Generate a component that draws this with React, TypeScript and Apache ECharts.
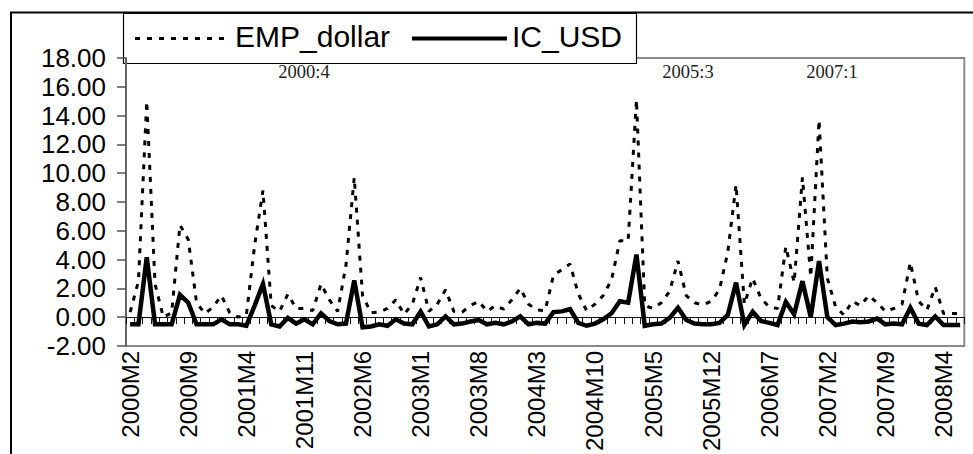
import React, { useEffect, useRef } from "react";
import * as echarts from "echarts";

// Monthly categories 2000M2 .. 2008M6
const firstYear = 2000;
const firstMonth = 2;
const monthCount = 101;
const categories: string[] = [];
for (let k = 0; k < monthCount; k++) {
  const m = firstMonth - 1 + k;
  categories.push(`${firstYear + Math.floor(m / 12)}M${(m % 12) + 1}`);
}

const empDollar = [
  0.35, 2.5, 15.0, 2.3, 0.0, 0.3, 6.4, 5.4, 1.0, 0.25, 0.7, 1.5, 0.3, 0.0, 0.15, 5.0, 8.8,
  0.8, 0.4, 1.6, 0.6, 0.6, 0.45, 2.3, 1.2, 0.4, 3.6, 9.7, 1.5, 0.3, 0.35, 0.6, 1.2,
  0.2, 0.9, 2.75, 0.4, 0.9, 1.9, 0.4, 0.35, 0.8, 1.1, 0.4, 0.8, 0.55, 1.2, 2.0, 0.9, 0.5,
  0.45, 2.9, 3.3, 3.7, 1.6, 0.45, 0.9, 1.5, 2.6, 5.3, 5.3, 15.1, 0.8, 0.6, 1.0, 1.8, 3.9,
  1.5, 1.0, 0.85, 1.1, 1.9, 4.5, 9.2, 0.9, 2.7, 1.3, 0.7, 0.6, 4.9, 2.4, 9.7, 2.8, 13.7,
  2.7, 0.7, 0.15, 1.1, 0.8, 1.5, 1.0, 0.4, 0.6, 0.9, 3.8, 1.1, 0.5, 2.1, 0.25, 0.25, 0.25,
];

const icUsd = [
  -0.5, -0.5, 4.15, -0.5, -0.5, -0.5, 1.55, 1.0, -0.5, -0.5, -0.5, -0.15, -0.5, -0.5, -0.6, 0.8, 2.3,
  -0.5, -0.65, -0.05, -0.45, -0.15, -0.5, 0.27, -0.27, -0.5, -0.45, 2.55, -0.7, -0.65, -0.5, -0.6, -0.15,
  -0.45, -0.5, 0.38, -0.65, -0.5, 0.05, -0.5, -0.45, -0.3, -0.2, -0.5, -0.4, -0.5, -0.3, 0.05, -0.5, -0.4,
  -0.45, 0.35, 0.4, 0.55, -0.4, -0.6, -0.45, -0.15, 0.27, 1.1, 1.0, 4.35, -0.6, -0.5, -0.45, -0.05, 0.65,
  -0.2, -0.45, -0.5, -0.5, -0.4, 0.15, 2.4, -0.55, 0.37, -0.27, -0.4, -0.55, 1.05, 0.2, 2.5, 0.0, 3.9,
  0.0, -0.55, -0.45, -0.3, -0.35, -0.3, -0.1, -0.5, -0.45, -0.5, 0.65, -0.45, -0.55, 0.05, -0.55, -0.55, -0.55,
];

const seriesNames = ["EMP_dollar", "IC_USD"];
const annotationTexts = ["2000:4", "2005:3", "2007:1"];
const yMin = -2;
const yMax = 18;
const yStep = 2;

const SANS = "'Liberation Sans', Arial, Helvetica, sans-serif";
const NARROW = "'Liberation Sans Narrow', 'Arial Narrow', 'Liberation Sans', Arial, sans-serif";
const SERIF = "'Liberation Serif', 'Times New Roman', serif";

export default function App() {
  const ref = useRef<HTMLDivElement>(null);

  useEffect(() => {
    if (!ref.current) return;
    const chart = echarts.init(ref.current, undefined, { renderer: "svg" });
    const annX = [304, 688, 832];

    const option: any = {
      animation: false,
      backgroundColor: "#ffffff",
      grid: {
        left: 126,
        top: 58,
        right: 8.7,
        bottom: 86,
        show: true,
        borderColor: "#8a8a8a",
        borderWidth: 2,
        backgroundColor: "transparent",
      },
      xAxis: [
        {
          type: "category",
          data: categories,
          boundaryGap: true,
          position: "bottom",
          axisLine: { show: false, onZero: false },
          axisTick: { show: false },
          axisLabel: {
            interval: 6,
            rotate: 90,
            margin: 5,
            color: "#000",
            fontSize: 24,
            fontFamily: NARROW,
          },
          splitLine: { show: false },
        },
        {
          type: "category",
          data: categories,
          boundaryGap: true,
          position: "bottom",
          axisLine: { show: true, onZero: true, lineStyle: { color: "#111", width: 1.2 } },
          axisTick: { show: true, interval: 0, length: 7, inside: false, lineStyle: { color: "#111", width: 1 } },
          axisLabel: { show: false },
          splitLine: { show: false },
        },
      ],
      yAxis: {
        type: "value",
        min: yMin,
        max: yMax,
        interval: yStep,
        axisLine: { show: true, lineStyle: { color: "#666", width: 2 } },
        axisTick: { show: true, length: 9, lineStyle: { color: "#555", width: 1.5 } },
        axisLabel: {
          margin: 20,
          color: "#000",
          fontSize: 26,
          fontFamily: SANS,
          formatter: (v: number) => v.toFixed(2),
        },
        splitLine: { show: false },
      },
      series: [
        {
          name: seriesNames[0],
          type: "line",
          data: empDollar,
          xAxisIndex: 0,
          symbol: "none",
          showSymbol: false,
          lineStyle: { color: "#000", width: 3, type: [5, 7], cap: "butt" },
          z: 2,
        },
        {
          name: seriesNames[1],
          type: "line",
          data: icUsd,
          xAxisIndex: 0,
          symbol: "none",
          showSymbol: false,
          lineStyle: { color: "#000", width: 4.5, join: "miter" },
          z: 3,
        },
      ],
      graphic: [
        {
          type: "rect",
          z: 100,
          silent: true,
          shape: { x: 11, y: 12.5, width: 1000, height: 500 },
          style: { fill: "none", stroke: "#000", lineWidth: 2 },
        },
        {
          type: "group",
          z: 100,
          silent: true,
          children: [
            {
              type: "rect",
              shape: { x: 123.5, y: 13.5, width: 513, height: 50 },
              style: { fill: "#fff", stroke: "#000", lineWidth: 1.2 },
            },
            {
              type: "line",
              shape: { x1: 135, y1: 38.5, x2: 229, y2: 38.5 },
              style: { stroke: "#000", lineWidth: 3, lineDash: [5, 7] },
            },
            {
              type: "text",
              x: 235,
              y: 36,
              style: {
                text: seriesNames[0],
                fill: "#000",
                font: `30px ${SANS}`,
                textAlign: "left",
                textVerticalAlign: "middle",
              },
            },
            {
              type: "line",
              shape: { x1: 412, y1: 38.5, x2: 507, y2: 38.5 },
              style: { stroke: "#000", lineWidth: 4 },
            },
            {
              type: "text",
              x: 512,
              y: 36,
              style: {
                text: seriesNames[1],
                fill: "#000",
                font: `30px ${SANS}`,
                textAlign: "left",
                textVerticalAlign: "middle",
              },
            },
          ],
        },
        ...annotationTexts.map((t, k) => ({
          type: "text",
          z: 100,
          silent: true,
          x: annX[k],
          y: 72,
          style: {
            text: t,
            fill: "#222",
            font: `18.5px ${SERIF}`,
            textAlign: "center",
            textVerticalAlign: "middle",
          },
        })),
      ],
    };

    chart.setOption(option);
    return () => chart.dispose();
  }, []);

  return (
    <div
      ref={ref}
      style={{ position: "absolute", left: 0, top: 0, width: 973, height: 454, background: "#fff" }}
    />
  );
}
